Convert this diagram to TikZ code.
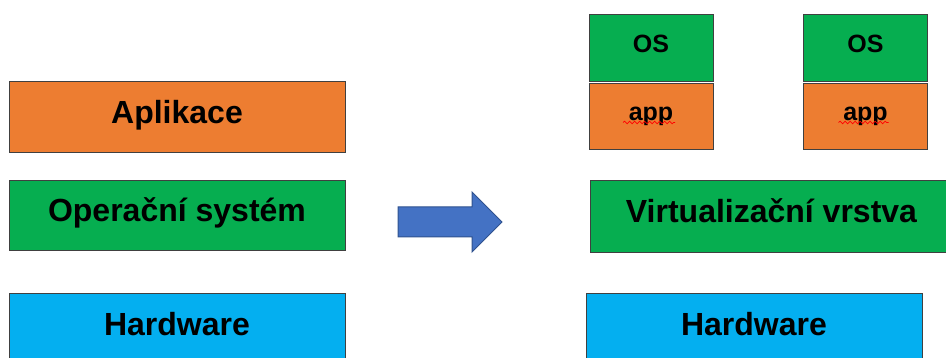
\documentclass[tikz,border=0pt]{standalone}
\usepackage{fontspec}
\setmainfont{Liberation Sans}
\usetikzlibrary{calc,decorations.pathmorphing}
\definecolor{orng}{HTML}{ED7D31}
\definecolor{grn}{HTML}{06AE50}
\definecolor{blu}{HTML}{04AFF0}
\definecolor{arrfill}{HTML}{4472C4}
\definecolor{arrline}{HTML}{2F528F}
\definecolor{edge}{HTML}{404040}
\tikzset{
  layer/.style={draw=edge, line width=0.8pt, inner sep=0pt, outer sep=0pt,
    font=\fontsize{32}{38}\selectfont\bfseries, text height=23pt, text depth=9pt},
  small/.style={draw=edge, line width=0.8pt, inner sep=0pt, outer sep=0pt,
    minimum width=124pt, font=\fontsize{25}{30}\selectfont\bfseries, text height=18pt, text depth=8pt},
  squiggle/.style={draw=red, line width=0.7pt, decorate,
    decoration={snake, amplitude=1.3pt, segment length=5pt}}
}
\begin{document}
\begin{tikzpicture}[x=1pt,y=-1pt]
\useasboundingbox (0,0) rectangle (946,358);
\clip (0,0) rectangle (946,358);
% left stack
\node[layer, fill=orng, minimum width=336pt, minimum height=71pt] (apl) at (177,116.5) {Aplikace};
\node[layer, fill=grn, minimum width=336pt, minimum height=70pt] (os) at (177,215) {Operační systém};
\node[layer, fill=blu, minimum width=336pt, minimum height=71pt] (hw) at (177,328.5) {Hardware};
% arrow
\draw[fill=arrfill, draw=arrline, line width=1pt, line join=miter]
  (398,207) -- (472,207) -- (472,192) -- (502,222) -- (472,252) -- (472,237) -- (398,237) -- cycle;
% right stack
\node[small, fill=grn, minimum height=67pt] (os1) at (651,47.5) {OS};
\node[small, fill=orng, minimum height=66pt] (app1) at (651,116) {app};
\node[small, fill=grn, minimum height=67pt] (os2) at (865.5,47.5) {OS};
\node[small, fill=orng, minimum height=66pt] (app2) at (865.5,116) {app};
\draw[squiggle] ($(app1.center)+(-28,6.5)$) -- ($(app1.center)+(24,6.5)$);
\draw[squiggle] ($(app2.center)+(-27,6.5)$) -- ($(app2.center)+(23,6.5)$);
\node[layer, fill=grn, minimum width=363pt, minimum height=72pt] (virt) at (771.5,216) {Virtualizační vrstva};
\node[layer, fill=blu, minimum width=336pt, minimum height=71pt] (hw2) at (754,328.5) {Hardware};
\end{tikzpicture}
\end{document}
